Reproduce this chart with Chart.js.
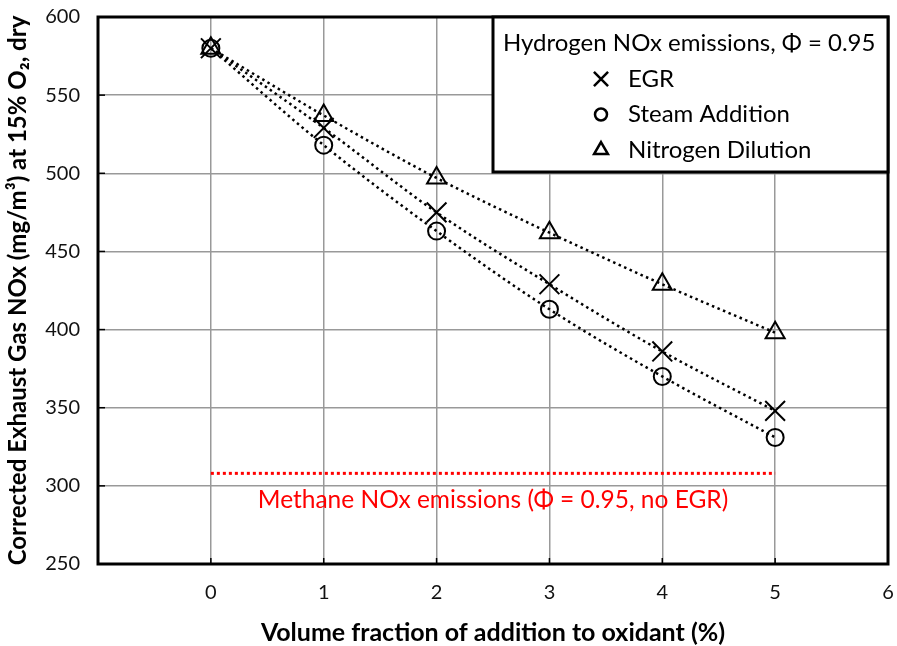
<!DOCTYPE html>
<html>
<head>
<meta charset="utf-8">
<script src="https://cdn.jsdelivr.net/npm/chart.js@4/dist/chart.umd.min.js"></script>
<style>
  body { margin: 0; background: #fff; }
  #wrap { width: 897px; height: 646px; }
</style>
</head>
<body>
<div id="wrap"><canvas id="noxChart" width="897" height="646"></canvas></div>
<script>
// Fracción de volumen añadida al oxidante (%)
const additionPct = [0, 1, 2, 3, 4, 5];
// NOx corregido (mg/m3 a 15% O2, seco) para cada método
const egrNox = [580, 529, 475, 429, 386, 348];
const steamNox = [580, 518, 463, 413, 370, 331];
const nitrogenNox = [580, 537, 497, 462, 429, 398];
// Referencia: metano sin EGR
const methaneX = [0, 5];
const methaneNox = 308;

const xTicks = [0, 1, 2, 3, 4, 5, 6];
const yTicks = [250, 300, 350, 400, 450, 500, 550, 600];

const FONT = "Lato, 'Open Sans', sans-serif";

function toPoints(xs, ys) {
  return xs.map((x, i) => ({ x: x, y: ys[i] }));
}

// Leyenda
const legendTitle = "Hydrogen NOx emissions, \u03A6 = 0.95";
const legendItems = [
  { label: "EGR", style: "crossRot", r: 10 },
  { label: "Steam Addition", style: "circle", r: 6 },
  { label: "Nitrogen Dilution", style: "triangle", r: 8 }
];
const methaneLabel = "Methane NOx emissions (\u03A6 = 0.95, no EGR)";

const framePlugin = {
  id: 'frame',
  beforeDatasetsDraw(chart) {
    const { ctx, chartArea: a, scales } = chart;
    ctx.save();
    ctx.strokeStyle = '#000';
    ctx.lineWidth = 1.5;
    // marcas interiores del eje y
    yTicks.forEach(v => {
      const y = scales.y.getPixelForValue(v);
      ctx.beginPath(); ctx.moveTo(a.left, y); ctx.lineTo(a.left + 7, y); ctx.stroke();
    });
    // marcas interiores del eje x
    xTicks.forEach(v => {
      const x = scales.x.getPixelForValue(v);
      ctx.beginPath(); ctx.moveTo(x, a.bottom); ctx.lineTo(x, a.bottom - 6); ctx.stroke();
    });
    ctx.lineWidth = 3;
    ctx.strokeRect(a.left, a.top, a.right - a.left, a.bottom - a.top);
    ctx.restore();
  },
  afterDraw(chart) {
    const { ctx, chartArea: a, scales } = chart;
    ctx.save();
    // texto de la línea del metano
    ctx.fillStyle = '#ff0000';
    ctx.font = "24.5px " + FONT;
    ctx.textAlign = 'center';
    ctx.textBaseline = 'middle';
    ctx.fillText(methaneLabel, scales.x.getPixelForValue(2.5), scales.y.getPixelForValue(methaneNox) + 27);

    // caja de la leyenda
    const bx = 493, by = a.top, bw = a.right - bx, bh = 155;
    ctx.fillStyle = '#fff';
    ctx.fillRect(bx, by, bw, bh);
    ctx.strokeStyle = '#000';
    ctx.lineWidth = 3;
    ctx.strokeRect(bx, by, bw, bh);

    ctx.font = "24px " + FONT;
    ctx.textAlign = 'left';
    ctx.fillStyle = '#000';
    ctx.fillText(legendTitle, bx + 10, by + 26);
    legendItems.forEach((item, i) => {
      const y = by + 62 + i * 35.5;
      ctx.fillStyle = 'rgba(0,0,0,0)';
      ctx.strokeStyle = '#000';
      ctx.lineWidth = 2.5;
      Chart.helpers.drawPoint(ctx, { pointStyle: item.style, radius: item.r, borderWidth: 2.5, rotation: 0 }, 601, y);
      ctx.fillStyle = '#000';
      ctx.fillText(item.label, 628, y);
    });
    ctx.restore();
  }
};

function seriesDataset(label, values, style, radius) {
  return {
    label: label,
    data: toPoints(additionPct, values),
    showLine: true,
    borderColor: '#000',
    borderWidth: 2.5,
    borderDash: [2.5, 3.5],
    cubicInterpolationMode: 'monotone',
    pointStyle: style,
    pointRadius: radius,
    pointBorderWidth: 2,
    pointBorderColor: '#000',
    pointBackgroundColor: 'rgba(0,0,0,0)'
  };
}

const ctx = document.getElementById('noxChart').getContext('2d');
new Chart(ctx, {
  type: 'scatter',
  data: {
    datasets: [
      seriesDataset('EGR', egrNox, 'crossRot', 14),
      seriesDataset('Steam Addition', steamNox, 'circle', 8.5),
      seriesDataset('Nitrogen Dilution', nitrogenNox, 'triangle', 11),
      {
        label: 'Methane',
        data: methaneX.map(x => ({ x: x, y: methaneNox })),
        showLine: true,
        borderColor: '#ff0000',
        borderWidth: 3,
        borderDash: [3, 3],
        pointRadius: 0
      }
    ]
  },
  options: {
    responsive: false,
    animation: false,
    layout: { autoPadding: false, padding: { top: 17, right: 9, left: 0, bottom: 0 } },
    plugins: { legend: { display: false }, tooltip: { enabled: false } },
    scales: {
      x: {
        type: 'linear',
        min: -1,
        max: 6,
        afterBuildTicks: axis => { axis.ticks = [-1].concat(xTicks).map(v => ({ value: v })); },
        afterFit: axis => {
          axis.height = 82;
          axis.paddingLeft = 0;
          axis.paddingRight = 0;
        },
        ticks: {
          callback: v => (v < 0 ? '' : v),
          font: { family: FONT, size: 20 },
          color: '#111',
          padding: 17,
          maxRotation: 0
        },
        grid: {
          drawTicks: false,
          lineWidth: 1.5,
          color: c => (c.tick && c.tick.value >= 0 && c.tick.value <= 5 ? '#999' : 'rgba(0,0,0,0)')
        },
        border: { display: false },
        title: {
          display: true,
          text: 'Volume fraction of addition to oxidant (%)',
          font: { family: FONT, size: 25, weight: 'bold' },
          color: '#000',
          padding: { top: 12, bottom: -2 }
        }
      },
      y: {
        min: 250,
        max: 600,
        afterBuildTicks: axis => { axis.ticks = yTicks.map(v => ({ value: v })); },
        afterFit: axis => {
          axis.width = 98;
          axis.paddingTop = 0;
          axis.paddingBottom = 0;
        },
        ticks: {
          font: { family: FONT, size: 20 },
          color: '#111',
          padding: 18
        },
        grid: {
          drawTicks: false,
          lineWidth: 1.5,
          color: c => (c.tick && c.tick.value > 250 && c.tick.value < 600 ? '#999' : 'rgba(0,0,0,0)')
        },
        border: { display: false },
        title: {
          display: true,
          text: 'Corrected Exhaust Gas NOx (mg/m\u00B3) at 15% O\u2082, dry',
          font: { family: FONT, size: 24, weight: 'bold' },
          color: '#000',
          padding: { bottom: 4 }
        }
      }
    }
  },
  plugins: [framePlugin]
});
</script>
</body>
</html>
